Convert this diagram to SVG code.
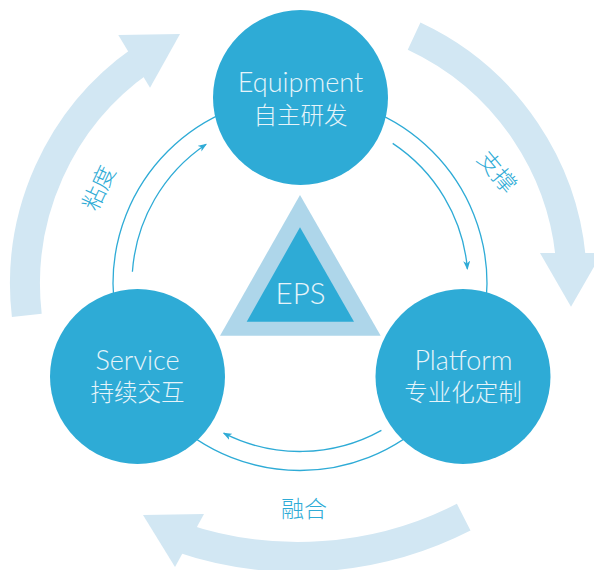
<svg xmlns="http://www.w3.org/2000/svg" width="594" height="570" viewBox="0 0 594 570">
<style>
.band{fill:none;stroke:#d2e7f3;stroke-width:30;stroke-linecap:butt}
.head{fill:#d2e7f3}
.line{fill:none;stroke:#2eabd6;stroke-width:1.3}
.node{fill:#2eabd6}
.en{font-family:"Lato","Liberation Sans","Noto Sans CJK SC",sans-serif;font-size:27px;font-weight:300;fill:#e6f4fa;text-anchor:middle}
.zh{font-family:"Noto Sans CJK SC",sans-serif;font-size:23.5px;font-weight:300;fill:#e6f4fa;text-anchor:middle}
.lbl{font-family:"Noto Sans CJK SC",sans-serif;font-size:23px;font-weight:300;fill:#2eabd6;text-anchor:middle}
</style>
<defs>
<marker id="ah" markerUnits="userSpaceOnUse" markerWidth="9" markerHeight="7" refX="8" refY="3.5" orient="auto">
<path d="M0,0 L9,3.5 L0,7 L2.5,3.5 z" fill="#2eabd6"/>
</marker>
</defs>
<g id="big-arrows">
<path class="band" d="M26.8,315.4 A273.5,273.5 0 0 1 141.6,60.0"/>
<polygon class="head" points="118.3,35 180,34 150,87.7"/>
<path class="band" d="M414.1,36.1 A273.5,273.5 0 0 1 571.6,269.7"/>
<polygon class="head" points="540,253 602,253 571,306.7"/>
<path class="band" d="M463.7,517.2 A365,365 0 0 1 179.2,537.1"/>
<polygon class="head" points="143,515 204,514 175,567"/>
</g>
<g id="connectors">
<circle class="line" cx="300" cy="283.5" r="187"/>
<path class="line" d="M132.4,271.8 A168,168 0 0 1 206.1,144.2" marker-end="url(#ah)"/>
<path class="line" d="M392.7,143.4 A168,168 0 0 1 467.4,268.9" marker-end="url(#ah)"/>
<path class="line" d="M381.4,430.4 A168,168 0 0 1 223.7,433.2" marker-end="url(#ah)"/>
</g>
<g id="eps">
<polygon points="300,195 220,335.7 380.7,335.7" fill="#aed6ea"/>
<polygon points="300,227.3 246.7,321.7 354,321.7" fill="#2eabd6"/>
<text class="en" x="300.5" y="303.5" style="font-size:29.5px">EPS</text>
</g>
<g id="equipment">
<circle class="node" cx="300.5" cy="97.5" r="87.5"/>
<text class="en" x="300.5" y="92">Equipment</text>
<text class="zh" x="300.5" y="123.5">自主研发</text>
</g>
<g id="service">
<circle class="node" cx="137.5" cy="376.5" r="87.5"/>
<text class="en" x="137.5" y="370">Service</text>
<text class="zh" x="137.5" y="401">持续交互</text>
</g>
<g id="platform">
<circle class="node" cx="463" cy="376.5" r="87.5"/>
<text class="en" x="463.5" y="370">Platform</text>
<text class="zh" x="463" y="401">专业化定制</text>
</g>
<g id="labels">
<text class="lbl" transform="translate(99,188) rotate(-65)" y="8">粘度</text>
<text class="lbl" transform="translate(497,172) rotate(50)" y="8">支撑</text>
<text class="lbl" x="304" y="516.5">融合</text>
</g>
</svg>
